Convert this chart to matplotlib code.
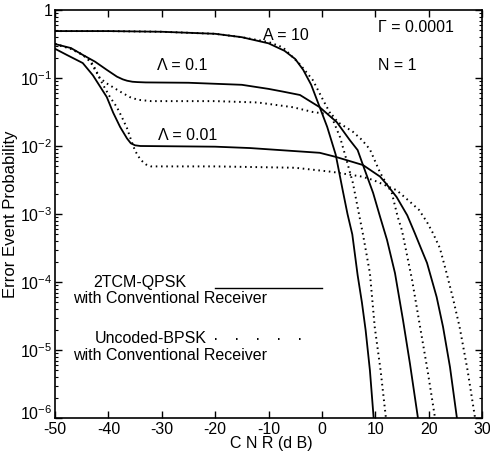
import numpy as np
import matplotlib
matplotlib.use("Agg")
import matplotlib.pyplot as plt
from matplotlib.ticker import FixedLocator, FixedFormatter, LogLocator, NullFormatter
from matplotlib.transforms import ScaledTranslation

plt.rcParams["font.family"] = ["Liberation Sans", "DejaVu Sans"]
plt.rcParams["mathtext.fontset"] = "custom"
plt.rcParams["mathtext.rm"] = "Liberation Sans"
plt.rcParams["mathtext.it"] = "Liberation Sans"
plt.rcParams["axes.unicode_minus"] = False

# curves: x = CNR (dB), values = log10(error event probability)
a10_solid_x = [-50, -40, -30, -20, -15, -10, -7, -5, -3.5, -2, -0.4, 1, 2.6, 3.9, 4.8, 5.7, 6.7, 7.5, 8.2, 9.0, 9.7]
a10_solid_lg = [-0.31, -0.31, -0.32, -0.35, -0.4, -0.49, -0.6, -0.72, -0.88, -1.1, -1.43, -1.72, -2.13, -2.65, -3.0, -3.3, -3.9, -4.3, -4.71, -5.3, -6.0]
a10_dot_x = [-50, -40, -30, -20, -15, -10, -7.3, -4.1, -1.7, 0.2, 1.5, 3.4, 4.6, 5.8, 6.7, 7.7, 9.0, 9.9, 11.0, 12.0]
a10_dot_lg = [-0.31, -0.31, -0.32, -0.35, -0.4, -0.47, -0.55, -0.8, -1.03, -1.32, -1.51, -1.87, -2.2, -2.54, -2.9, -3.3, -3.87, -4.66, -5.3, -6.0]

a01_solid_x = [-50, -47, -44.8, -42.5, -40.3, -38.4, -37.3, -36.5, -35.5, -34.6, -33, -25, -15, -10, -7.3, -4.1, -0.4, 2.8, 5.2, 6.7, 7.7, 9.6, 10.9, 12.2, 13.7, 15.2, 16.5, 18.0]
a01_solid_lg = [-0.5, -0.56, -0.66, -0.76, -0.88, -0.98, -1.02, -1.04, -1.055, -1.06, -1.065, -1.07, -1.1, -1.16, -1.2, -1.25, -1.43, -1.65, -1.91, -2.06, -2.28, -2.69, -3.04, -3.38, -3.87, -4.56, -5.2, -6.0]
a01_dot_x = [-50, -47, -44.8, -43.4, -42.5, -41.6, -40.3, -37.8, -36, -34.5, -32, -20, -12, -5.4, -1.7, 1.9, 3.0, 5.8, 7.5, 9.0, 10.9, 13.1, 14.2, 15.0, 16.9, 18.4, 19.8, 21.2]
a01_dot_lg = [-0.5, -0.57, -0.66, -0.74, -0.86, -1.0, -1.08, -1.2, -1.28, -1.32, -1.34, -1.34, -1.36, -1.43, -1.5, -1.54, -1.65, -1.79, -1.91, -2.05, -2.39, -2.69, -3.04, -3.24, -3.97, -4.66, -5.3, -6.0]

a001_solid_x = [-50, -47.8, -44.8, -42.9, -40.3, -39.1, -37.8, -36.5, -35.8, -35.0, -34, -20, -13.5, -0.4, 2.6, 7.7, 10.9, 12.0, 14.0, 16.0, 17.4, 18.7, 19.7, 21.5, 22.7, 24.0, 25.3]
a001_solid_lg = [-0.57, -0.66, -0.78, -0.96, -1.28, -1.51, -1.72, -1.89, -1.96, -1.99, -2.0, -2.01, -2.03, -2.1, -2.16, -2.28, -2.45, -2.55, -2.75, -3.02, -3.28, -3.53, -3.72, -4.22, -4.66, -5.25, -6.0]
a001_dot_x = [-50, -47, -44.8, -43.4, -42.2, -41, -39.7, -38.4, -37.5, -36.5, -35.8, -35, -34, -33, -32, -20, -5, 1.9, 7.5, 9.6, 14.0, 16.5, 18.2, 19.7, 20.8, 22.1, 23.2, 24.5, 25.8, 27.3, 28.7]
a001_dot_lg = [-0.5, -0.57, -0.66, -0.76, -0.92, -1.1, -1.28, -1.43, -1.57, -1.74, -1.9, -2.07, -2.2, -2.27, -2.3, -2.3, -2.32, -2.38, -2.45, -2.5, -2.65, -2.82, -2.94, -3.12, -3.28, -3.5, -3.82, -4.22, -4.66, -5.3, -6.0]

x_ticks = [-50, -40, -30, -20, -10, 0, 10, 20, 30]
y_ticks = [1e-6, 1e-5, 1e-4, 1e-3, 1e-2, 1e-1, 1]
y_ticklabels = [r"$10^{-6}$", r"$10^{-5}$", r"$10^{-4}$", r"$10^{-3}$", r"$10^{-2}$", r"$10^{-1}$", "1"]

DOT = (0, (0.8, 1.9))

fig = plt.figure(figsize=(4.9, 4.59), dpi=100)
ax = fig.add_axes([55 / 490, 41 / 459, 427 / 490, 408 / 459])

for xs, lg in [(a10_solid_x, a10_solid_lg), (a01_solid_x, a01_solid_lg), (a001_solid_x, a001_solid_lg)]:
    ax.plot(xs, 10 ** np.array(lg), color="black", lw=1.3)
for xs, lg in [(a10_dot_x, a10_dot_lg), (a01_dot_x, a01_dot_lg), (a001_dot_x, a001_dot_lg)]:
    ax.plot(xs, 10 ** np.array(lg), color="black", lw=1.4, linestyle=DOT)

ax.set_yscale("log")
ax.set_xlim(-50, 30)
ax.set_ylim(1e-6, 1)
ax.xaxis.set_major_locator(FixedLocator(x_ticks))
ax.yaxis.set_major_locator(FixedLocator(y_ticks))
ax.yaxis.set_major_formatter(FixedFormatter(y_ticklabels))
ax.yaxis.set_minor_locator(LogLocator(base=10, subs=np.arange(2, 10), numticks=20))
ax.yaxis.set_minor_formatter(NullFormatter())
ax.tick_params(which="both", direction="in", top=True, right=True, labelsize=11.5, colors="black")
ax.tick_params(which="major", length=5, width=1)
ax.tick_params(which="minor", length=2.5, width=0.8)
ax.tick_params(axis="x", pad=3)
ax.tick_params(axis="y", pad=2)
for s in ax.spines.values():
    s.set_linewidth(1.2)

# lift the 10^-6 label a little off the corner, as in the original
lowest = ax.yaxis.get_major_ticks()[0].label1
lowest.set_transform(lowest.get_transform() + ScaledTranslation(0, 4 / 72, fig.dpi_scale_trans))

ax.set_xlabel("C N R (d B)", fontsize=11.5)
ax.xaxis.set_label_coords(0.506, -0.044)
ax.set_ylabel("Error Event Probability", fontsize=12)
ax.yaxis.set_label_coords(-0.087, 0.5)

ax.text(-11, 10 ** -0.38, "A = 10", fontsize=11.5, va="center", ha="left")
ax.text(-30.9, 10 ** -0.82, "\u039b = 0.1", fontsize=11.5, va="center", ha="left")
ax.text(-30.7, 10 ** -1.84, "\u039b = 0.01", fontsize=11.5, va="center", ha="left")
ax.text(10.5, 10 ** -0.26, "\u0393 = 0.0001", fontsize=11.5, va="center", ha="left")
ax.text(10.5, 10 ** -0.82, "N = 1", fontsize=11.5, va="center", ha="left")

# hand-drawn style legend inside the axes
tr = ax.transAxes
ax.text(0.089, 0.331, "2TCM-QPSK", transform=tr, fontsize=11.5, va="center", ha="left")
ax.text(0.042, 0.294, "with Conventional Receiver", transform=tr, fontsize=11.5, va="center", ha="left")
ax.plot([0.375, 0.625], [0.319, 0.319], transform=tr, color="black", lw=1.0)
ax.text(0.094, 0.194, "Uncoded-BPSK", transform=tr, fontsize=11.5, va="center", ha="left")
ax.text(0.042, 0.154, "with Conventional Receiver", transform=tr, fontsize=11.5, va="center", ha="left")
ax.plot([0.375, 0.585], [0.194, 0.194], transform=tr, color="black", lw=1.4, linestyle=(0, (0.8, 10)))

fig.savefig("out.png", dpi=100)
